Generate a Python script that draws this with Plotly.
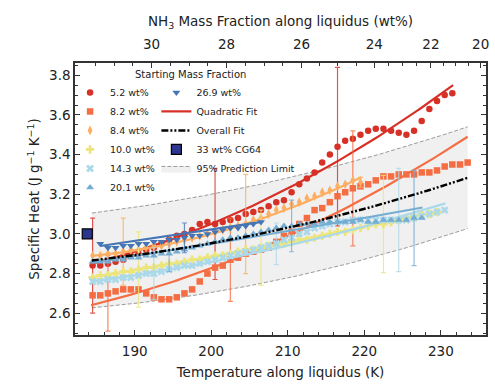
import plotly.graph_objects as go
import numpy as np

# ---------------- data ----------------
T_grid = [184.5, 185.5, 186.5, 187.5, 188.5, 189.5, 190.5, 191.5, 192.5, 193.5,
          194.5, 195.5, 196.5, 197.5, 198.5, 199.5, 200.5, 201.5, 202.5, 203.5,
          204.5, 205.5, 206.5, 207.5, 208.5, 209.5, 210.5, 211.5, 212.5, 213.5,
          214.5, 215.5, 216.5, 217.5, 218.5, 219.5, 220.5, 221.5, 222.5, 223.5,
          224.5, 225.5, 226.5, 227.5, 228.5, 229.5, 230.5, 231.5, 232.5, 233.5]

cp_52 = [2.84, 2.84, 2.85, 2.86, 2.87, 2.89, 2.90, 2.92, 2.93, 2.95,
         2.97, 2.99, 3.00, 3.02, 3.05, 3.06, 3.05, 3.06, 3.07, 3.08,
         3.10, 3.11, 3.12, 3.14, 3.16, 3.17, 3.21, 3.25, 3.28, 3.31,
         3.36, 3.40, 3.44, 3.47, 3.48, 3.50, 3.52, 3.53, 3.53, 3.52,
         3.51, 3.50, 3.52, 3.57, 3.63, 3.67, 3.70, 3.71]
cp_82 = [2.69, 2.69, 2.70, 2.71, 2.72, 2.72, 2.72, 2.70, 2.68, 2.67,
         2.67, 2.68, 2.70, 2.72, 2.76, 2.80, 2.83, 2.84, 2.87, 2.88,
         2.90, 2.91, 2.92, 2.93, 2.96, 2.99, 3.01, 3.05, 3.08, 3.12,
         3.13, 3.16, 3.19, 3.21, 3.23, 3.24, 3.25, 3.27, 3.29, 3.29,
         3.30, 3.30, 3.30, 3.31, 3.31, 3.32, 3.34, 3.35, 3.35, 3.36]
cp_84 = [2.89, 2.89, 2.90, 2.90, 2.91, 2.92, 2.92, 2.93, 2.94, 2.94,
         2.95, 2.96, 2.97, 2.98, 2.99, 3.00, 3.01, 3.02, 3.03, 3.04,
         3.05, 3.07, 3.08, 3.10, 3.12, 3.13, 3.15, 3.16, 3.18, 3.19,
         3.21, 3.22, 3.24, 3.25, 3.27, 3.26]
cp_100 = [2.78, 2.79, 2.79, 2.80, 2.81, 2.81, 2.82, 2.83, 2.83, 2.84,
          2.85, 2.85, 2.86, 2.87, 2.87, 2.88, 2.89, 2.89, 2.90, 2.91,
          2.92, 2.92, 2.93, 2.94, 2.94, 2.95, 2.96, 2.97, 2.97, 2.98,
          2.99, 3.00, 3.01, 3.01, 3.02, 3.03, 3.04, 3.05, 3.05, 3.06,
          3.07, 3.08, 3.09, 3.10, 3.10, 3.11]
cp_143 = [2.76, 2.76, 2.77, 2.77, 2.78, 2.78, 2.79, 2.80, 2.80, 2.81,
          2.82, 2.83, 2.84, 2.84, 2.85, 2.86, 2.87, 2.88, 2.89, 2.90,
          2.91, 2.92, 2.93, 2.94, 2.95, 2.97, 2.98, 3.00, 3.01, 3.03,
          3.04, 3.05, 3.06, 3.06, 3.07, 3.07, 3.07, 3.07, 3.07, 3.07,
          3.07, 3.07, 3.08, 3.09, 3.10, 3.11, 3.12]
cp_201 = [2.86, 2.86, 2.86, 2.87, 2.87, 2.88, 2.88, 2.89, 2.89, 2.90,
          2.90, 2.91, 2.92, 2.93, 2.94, 2.95, 2.96, 2.97, 2.98, 2.98,
          2.99, 3.00, 3.01, 3.02, 3.03, 3.04, 3.04, 3.05, 3.05, 3.05,
          3.06, 3.06, 3.06, 3.06, 3.06, 3.07, 3.06, 3.06, 3.07, 3.07,
          3.07, 3.07, 3.08, 3.08]
cp_269 = [2.95, 2.93, 2.93, 2.94, 2.94, 2.95, 2.95, 2.96, 2.96, 2.97,
          2.97, 2.98, 2.99, 2.99, 3.00, 3.01, 3.02, 3.03, 3.03, 3.04,
          3.05, 3.06]
start_269 = 1  # 26.9 wt% series begins one step later on the grid

# error bars: index into each series, half-width
eb_idx = {"5.2": [0, 16, 32], "8.2": [2, 18, 34], "8.4": [4, 20, 35],
          "10.0": [6, 22, 38], "14.3": [8, 24, 40], "20.1": [10, 26, 42],
          "26.9": [11]}
eb_err = {"5.2": [0.24, 0.28, 0.40], "8.2": [0.19, 0.21, 0.29],
          "8.4": [0.17, 0.25, 0.025], "10.0": [0.19, 0.19, 0.245],
          "14.3": [0.13, 0.105, 0.26], "20.1": [0.09, 0.13, 0.24],
          "26.9": [0.075]}

# quadratic fits, each defined by three (T, Cp) points
fit_T = {"5.2": [184.5, 208.0, 231.6], "8.2": [184.3, 209.0, 233.5],
         "8.4": [184.4, 204.5, 219.6], "10.0": [184.5, 210.1, 229.6],
         "14.3": [184.5, 208.8, 230.6], "20.1": [184.5, 208.8, 227.6],
         "26.9": [185.5, 196.0, 206.6]}
fit_cp = {"5.2": [2.85, 3.19, 3.75], "8.2": [2.64, 2.97, 3.49],
          "8.4": [2.889, 3.05, 3.286], "10.0": [2.784, 2.959, 3.115],
          "14.3": [2.759, 2.93, 3.154], "20.1": [2.855, 3.006, 3.133],
          "26.9": [2.939, 3.0, 3.061]}

overall_T = [184.4, 208.8, 233.5]
overall_cp = [2.866, 3.02, 3.283]
upper_cp = [3.105, 3.271, 3.54]
lower_cp = [2.627, 2.768, 3.027]

cg64_T = [183.8]
cg64_cp = [3.0]

nh3_labels = ["30", "28", "26", "24", "22", "20"]
nh3_wt = [30, 28, 26, 24, 22, 20]
nh3_T = [192.2, 202.0, 211.8, 221.3, 228.7, 235.2]
nh3_minor_wt = [31.5, 31, 30.5, 29.5, 29, 28.5, 27.5, 27, 26.5, 25.5, 25,
                24.5, 23.5, 23, 22.5, 21.5, 21, 20.5]

series = ["5.2", "8.2", "8.4", "10.0", "14.3", "20.1", "26.9"]
values = {"5.2": cp_52, "8.2": cp_82, "8.4": cp_84, "10.0": cp_100,
          "14.3": cp_143, "20.1": cp_201, "26.9": cp_269}
colors = {"5.2": "#d73027", "8.2": "#f46d43", "8.4": "#fdae61",
          "10.0": "#ece57c", "14.3": "#abd9e9", "20.1": "#74add1",
          "26.9": "#4575b4"}
rgb = {"5.2": "215,48,39", "8.2": "244,109,67", "8.4": "253,174,97",
       "10.0": "236,229,124", "14.3": "171,217,233", "20.1": "116,173,209",
       "26.9": "69,117,180"}
symbols = {"5.2": "circle", "8.2": "square", "8.4": "diamond-tall",
           "10.0": "cross", "14.3": "x", "20.1": "triangle-up",
           "26.9": "triangle-down"}
msize = {"5.2": 6.5, "8.2": 6.5, "8.4": 7, "10.0": 7, "14.3": 7,
         "20.1": 7, "26.9": 7}

XR = [182.2, 235.9]
YR = [2.49, 3.862]

# minor tick positions on the top (NH3) axis, placed along the liquidus map
slope_lo = (nh3_T[1] - nh3_T[0]) / (nh3_wt[1] - nh3_wt[0])
nh3_minor_T = []
for w in nh3_minor_wt:
    if w > nh3_wt[0]:
        tpos = nh3_T[0] + (w - nh3_wt[0]) * slope_lo
    else:
        tpos = float(np.interp(-w, [-v for v in nh3_wt], nh3_T))
    if XR[0] < tpos < XR[1]:
        nh3_minor_T.append(tpos)

fig = go.Figure()


def quad_curve(Ts, Cs, n=80):
    c = np.polyfit(Ts, Cs, 2)
    xs = np.linspace(Ts[0], Ts[-1], n)
    return xs, np.polyval(c, xs)


# prediction band
bx, bu = quad_curve(overall_T, upper_cp)
_, bl = quad_curve(overall_T, lower_cp)
fig.add_trace(go.Scatter(x=bx, y=bl, mode="lines",
                         line=dict(color="#9a9a9a", width=1, dash="4px,2px"),
                         showlegend=False, hoverinfo="skip"))
fig.add_trace(go.Scatter(x=bx, y=bu, mode="lines", fill="tonexty",
                         fillcolor="#f0f0f0",
                         line=dict(color="#9a9a9a", width=1, dash="4px,2px"),
                         name="95% Prediction Limit", legend="legend2",
                         legendrank=14))

# data series + fits
for k, s in enumerate(series):
    off = start_269 if s == "26.9" else 0
    xs = T_grid[off:off + len(values[s])]
    fx, fy = quad_curve(fit_T[s], fit_cp[s])
    fig.add_trace(go.Scatter(x=fx, y=fy, mode="lines",
                             line=dict(color=colors[s], width=2.2),
                             showlegend=False, hoverinfo="skip"))
    fig.add_trace(go.Scatter(x=xs, y=values[s], mode="markers",
                             marker=dict(symbol=symbols[s], size=msize[s],
                                         color=colors[s], line=dict(width=0)),
                             name=f"{s} wt%",
                             legend="legend2" if s == "26.9" else "legend",
                             legendrank=10 if s == "26.9" else k + 1))
    ex = [xs[i] for i in eb_idx[s]]
    ey = [values[s][i] for i in eb_idx[s]]
    fig.add_trace(go.Scatter(x=ex, y=ey, mode="markers",
                             marker=dict(size=1, opacity=0),
                             error_y=dict(type="data", array=eb_err[s],
                                          color=f"rgba({rgb[s]},0.8)",
                                          thickness=1.2, width=2.5),
                             showlegend=False, hoverinfo="skip"))

# overall fit
ox, oy = quad_curve(overall_T, overall_cp)
fig.add_trace(go.Scatter(x=ox, y=oy, mode="lines",
                         line=dict(color="black", width=2.4,
                                   dash="7px,2px,2px,2px,2px,2px"),
                         name="Overall Fit", legend="legend2", legendrank=12))

# legend-only entry for quadratic fit
fig.add_trace(go.Scatter(x=[None], y=[None], mode="lines",
                         line=dict(color="#d73027", width=2.2),
                         name="Quadratic Fit", legend="legend2", legendrank=11))

# CG64 point
fig.add_trace(go.Scatter(x=cg64_T, y=cg64_cp, mode="markers",
                         marker=dict(symbol="square", size=10, color="#2c3590",
                                     line=dict(color="black", width=1.2)),
                         name="33 wt% CG64", legend="legend2", legendrank=13,
                         cliponaxis=False))

# dummy trace on top axis
fig.add_trace(go.Scatter(x=[XR[0]], y=[None], xaxis="x2", showlegend=False,
                         hoverinfo="skip"))

font = "DejaVu Sans"
axcol = "#333333"
fig.update_layout(
    width=495, height=384,
    margin=dict(l=75, r=6, t=63, b=49),
    paper_bgcolor="white", plot_bgcolor="white",
    font=dict(family=font, size=13, color="#222"),
    xaxis=dict(range=XR, showgrid=False, zeroline=False, showline=True,
               linecolor=axcol, linewidth=1.5, mirror=True,
               ticks="inside", ticklen=5, tickwidth=1.2, tickcolor=axcol,
               tickvals=[190, 200, 210, 220, 230],
               minor=dict(ticks="inside", ticklen=3, tickwidth=1,
                          tickcolor=axcol, dtick=2, tick0=180),
               tickfont=dict(size=13.5), ticklabelstandoff=3,
               title=dict(text="Temperature along liquidus (K)",
                          font=dict(size=13.5), standoff=10)),
    xaxis2=dict(range=XR, overlaying="x", side="top", showgrid=False,
                zeroline=False, showline=False,
                ticks="inside", ticklen=5, tickwidth=1.2, tickcolor=axcol,
                tickmode="array", tickvals=nh3_T, ticktext=nh3_labels,
                minor=dict(ticks="inside", ticklen=3, tickwidth=1,
                           tickcolor=axcol, tickvals=nh3_minor_T),
                tickfont=dict(size=13.5), ticklabelstandoff=10,
                title=dict(text="NH<sub>3</sub> Mass Fraction along liquidus (wt%)",
                           font=dict(size=13.5), standoff=6)),
    yaxis=dict(range=YR, showgrid=False, zeroline=False, showline=True,
               linecolor=axcol, linewidth=1.5, mirror="ticks",
               ticks="inside", ticklen=5, tickwidth=1.2, tickcolor=axcol,
               tickvals=[2.6, 2.8, 3.0, 3.2, 3.4, 3.6, 3.8],
               ticktext=["2.6", "2.8", "3.0", "3.2", "3.4", "3.6", "3.8"],
               minor=dict(ticks="inside", ticklen=3, tickwidth=1,
                          tickcolor=axcol, dtick=0.05, tick0=2.5),
               tickfont=dict(size=13.5),
               title=dict(text="Specific Heat (J g<sup>−1</sup> K<sup>−1</sup>)",
                          font=dict(size=13.5), standoff=6)),
    legend=dict(x=-0.012, y=0.945, xanchor="left", yanchor="top",
                bgcolor="rgba(0,0,0,0)", font=dict(size=9.5, family=font),
                tracegroupgap=0, itemwidth=30, traceorder="normal"),
    legend2=dict(x=0.198, y=0.945, xanchor="left", yanchor="top",
                 bgcolor="rgba(0,0,0,0)", font=dict(size=9.5, family=font),
                 tracegroupgap=0, itemwidth=30, traceorder="normal"),
    annotations=[dict(text="Starting Mass Fraction", xref="paper", yref="paper",
                      x=0.28, y=0.985, xanchor="center", yanchor="top",
                      showarrow=False, font=dict(size=10, family=font))],
)

fig.write_html("out.html")
